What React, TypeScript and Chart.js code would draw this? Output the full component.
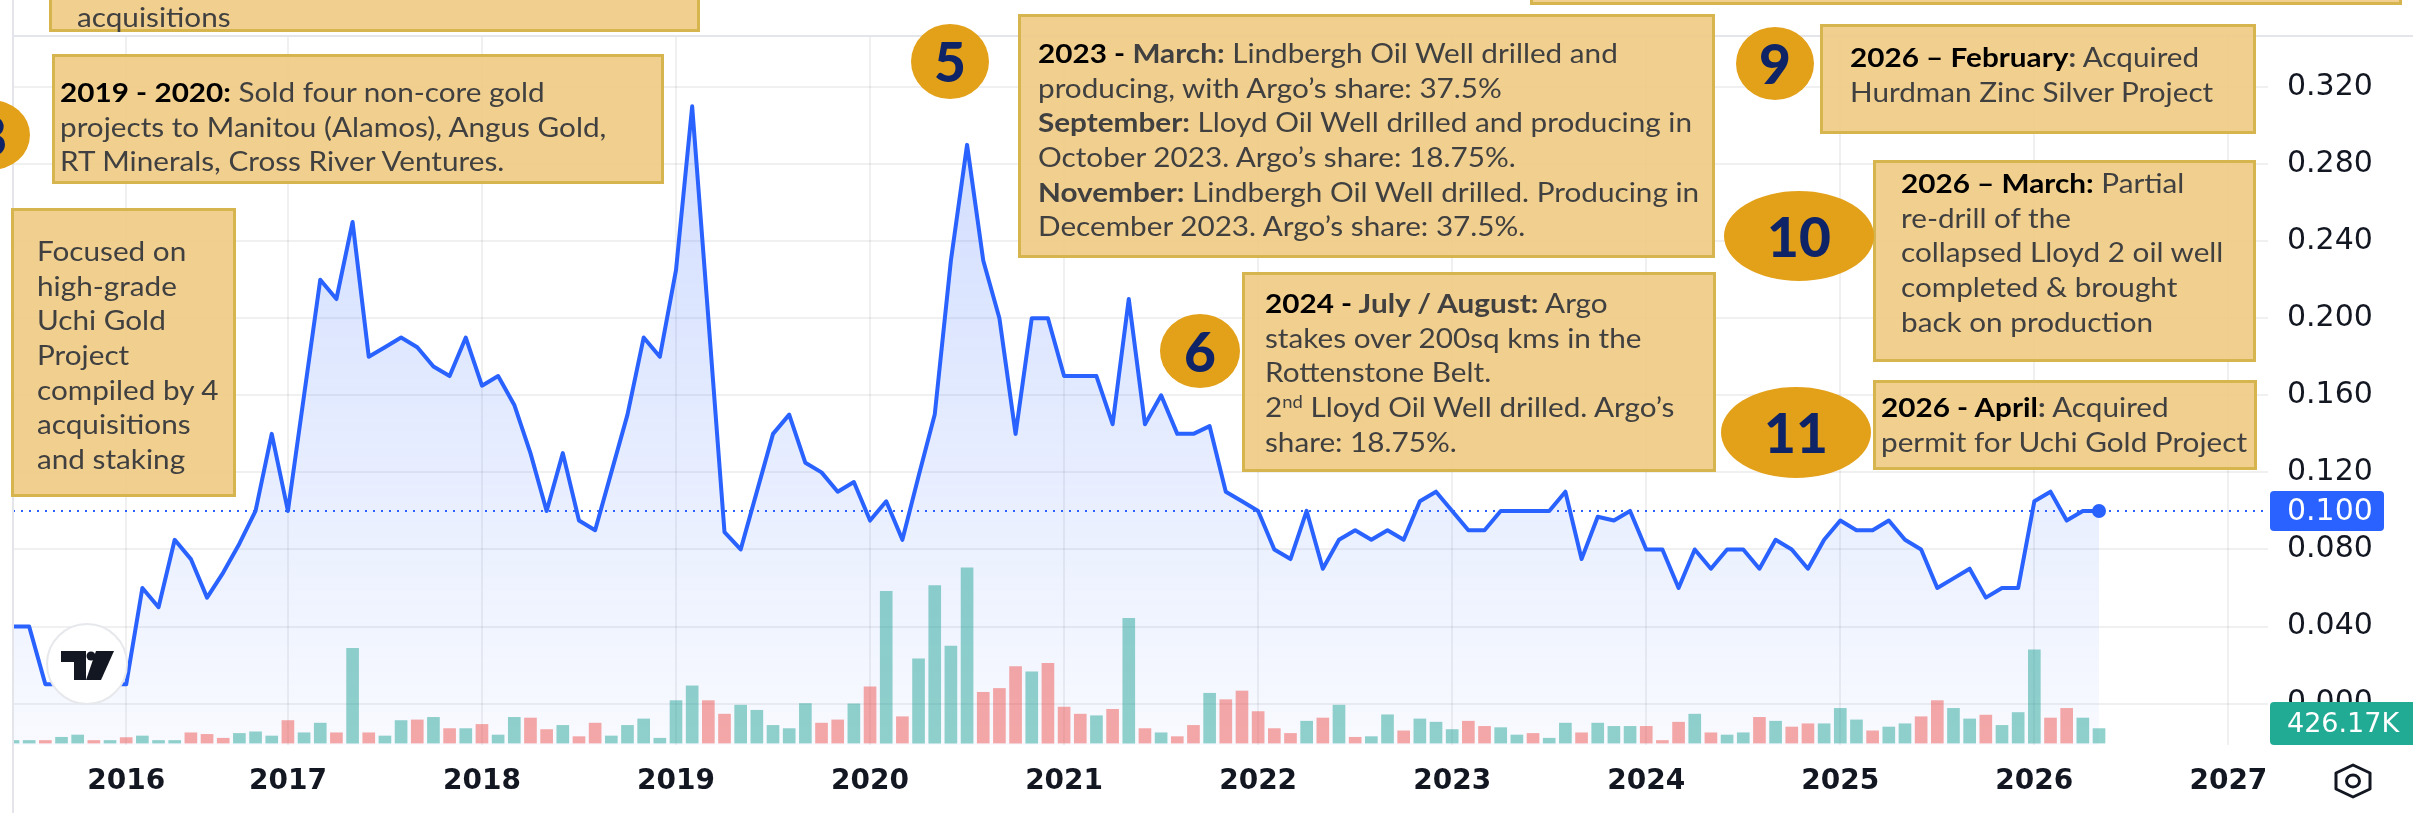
import React, { useEffect, useRef } from 'react';
import { Chart, registerables } from 'chart.js';

Chart.register(...registerables);

// ---------- DATA ----------
// Monthly closing price, one value per bar index (0 .. 129)
const PRICE: number[] = [
  0.04, 0.04, 0.01, 0.01, 0.01, 0.01, 0.01, 0.01, 0.06, 0.05,
  0.085, 0.075, 0.055, 0.068, 0.083, 0.10, 0.14, 0.10, 0.16, 0.22,
  0.21, 0.25, 0.18, 0.185, 0.19, 0.185, 0.175, 0.17, 0.19, 0.165,
  0.17, 0.155, 0.13, 0.10, 0.13, 0.095, 0.09, 0.12, 0.15, 0.19,
  0.18, 0.225, 0.31, 0.20, 0.089, 0.08, 0.11, 0.14, 0.15, 0.125,
  0.12, 0.11, 0.115, 0.095, 0.105, 0.085, 0.118, 0.15, 0.23, 0.29,
  0.23, 0.20, 0.14, 0.20, 0.20, 0.17, 0.17, 0.17, 0.145, 0.21,
  0.145, 0.16, 0.14, 0.14, 0.144, 0.11, 0.105, 0.10, 0.08, 0.075,
  0.10, 0.07, 0.085, 0.09, 0.085, 0.09, 0.085, 0.105, 0.11, 0.10,
  0.09, 0.09, 0.10, 0.10, 0.10, 0.10, 0.11, 0.075, 0.097, 0.095,
  0.10, 0.08, 0.08, 0.06, 0.08, 0.07, 0.08, 0.08, 0.07, 0.085,
  0.08, 0.07, 0.085, 0.095, 0.09, 0.09, 0.095, 0.085, 0.08, 0.06,
  0.065, 0.07, 0.055, 0.06, 0.06, 0.105, 0.11, 0.095, 0.10, 0.10,
];

// Monthly volume in thousands of shares
const VOLUME_K: number[] = [
  76, 76, 76, 170, 237, 76, 76, 161, 208, 76,
  76, 303, 256, 142, 284, 331, 208, 663, 303, 587,
  303, 2793, 303, 208, 663, 682, 757, 426, 426, 549,
  237, 757, 738, 398, 521, 189, 587, 208, 521, 710,
  142, 1250, 1685, 1250, 852, 1117, 966, 521, 426, 1164,
  587, 682, 1155, 1657, 4468, 776, 2480, 4639, 2859, 5160,
  1496, 1609, 2253, 2102, 2348, 1060, 852, 805, 994, 3673,
  426, 303, 189, 521, 1467, 1278, 1534, 928, 426, 284,
  644, 738, 1117, 170, 189, 833, 360, 710, 615, 398,
  644, 492, 454, 237, 284, 142, 587, 303, 587, 492,
  492, 492, 76, 615, 852, 303, 237, 303, 757, 644,
  473, 568, 568, 1022, 682, 360, 473, 568, 776, 1250,
  1022, 710, 824, 521, 899, 2745, 738, 1022, 738, 426.17,
];

// 1 = up month (teal), 0 = down month (red)
const VOLUME_UP: number[] = [
  1, 1, 0, 1, 1, 0, 1, 0, 1, 1,
  1, 0, 0, 0, 1, 1, 1, 0, 1, 1,
  0, 1, 0, 1, 1, 0, 1, 0, 1, 0,
  1, 1, 0, 0, 1, 0, 0, 1, 1, 1,
  1, 1, 1, 0, 0, 1, 1, 1, 1, 1,
  0, 0, 1, 0, 1, 0, 1, 1, 1, 1,
  0, 0, 0, 1, 0, 0, 0, 1, 0, 1,
  0, 1, 0, 0, 1, 0, 0, 0, 0, 0,
  1, 0, 1, 0, 1, 1, 0, 1, 1, 1,
  0, 0, 1, 1, 0, 1, 1, 0, 1, 1,
  1, 0, 0, 0, 1, 0, 1, 1, 0, 1,
  0, 0, 1, 1, 1, 0, 1, 1, 0, 0,
  1, 1, 0, 1, 1, 1, 0, 0, 1, 1,
];

// Year labels on the time axis and the bar index where each one sits
const YEAR_LABELS: string[] = ['2016', '2017', '2018', '2019', '2020', '2021', '2022', '2023', '2024', '2025', '2026', '2027'];
const YEAR_TICK_BARS: number[] = [7, 17, 29, 41, 53, 65, 77, 89, 101, 113, 125, 137];

// Price scale tick values
const PRICE_TICKS: number[] = [0, 0.04, 0.08, 0.12, 0.16, 0.2, 0.24, 0.28, 0.32];

// ---------- STYLE ----------
const GRID = 'rgba(42,46,57,0.07)';
const LINE_BLUE = '#2962ff';
const UP_COL = 'rgba(38,166,154,0.5)';
const DOWN_COL = 'rgba(239,83,80,0.5)';
const AXIS_FONT = 'DejaVu Sans';

const overlayPlugin = {
  id: 'tvOverlay',
  afterDatasetsDraw(chart: any) {
    const { ctx, chartArea: a, scales } = chart;
    const last = PRICE[PRICE.length - 1];
    const y = scales.y.getPixelForValue(last);
    ctx.save();
    ctx.strokeStyle = LINE_BLUE;
    ctx.lineWidth = 2;
    ctx.setLineDash([2, 6]);
    ctx.beginPath();
    ctx.moveTo(a.left, y);
    ctx.lineTo(a.right, y);
    ctx.stroke();
    ctx.restore();
  },
  afterDraw(chart: any) {
    const { ctx, chartArea: a, scales, width, height } = chart;
    ctx.save();
    // pane borders
    ctx.strokeStyle = '#e3e5ea';
    ctx.lineWidth = 2;
    ctx.beginPath();
    ctx.moveTo(a.left, 0);
    ctx.lineTo(a.left, height);
    ctx.moveTo(a.left, a.top - 1);
    ctx.lineTo(width, a.top - 1);
    ctx.stroke();

    // last price label
    const last = PRICE[PRICE.length - 1];
    const py = scales.y.getPixelForValue(last);
    const bx = a.right + 2;
    ctx.fillStyle = LINE_BLUE;
    roundRect(ctx, bx, py - 20, 114, 40, 4);
    ctx.fill();
    ctx.fillStyle = '#ffffff';
    ctx.font = `30px "${AXIS_FONT}"`;
    ctx.textBaseline = 'middle';
    ctx.textAlign = 'left';
    ctx.fillText(last.toFixed(3), a.right + 19, py + 1);

    // last volume label
    const lv = VOLUME_K[VOLUME_K.length - 1];
    let vy = scales.yv.getPixelForValue(lv);
    vy = Math.min(vy, a.bottom - 21.5);
    ctx.fillStyle = VOLUME_UP[VOLUME_UP.length - 1] ? '#22ab94' : '#f23645';
    roundRect(ctx, bx, vy - 21.5, 160, 43, 4);
    ctx.fill();
    ctx.fillStyle = '#ffffff';
    ctx.font = `27px "${AXIS_FONT}"`;
    ctx.fillText(lv.toFixed(2) + 'K', a.right + 19, vy + 1);

    // TradingView logo
    const lx = 87, ly = 664;
    ctx.beginPath();
    ctx.arc(lx, ly, 40, 0, Math.PI * 2);
    ctx.fillStyle = '#ffffff';
    ctx.fill();
    ctx.strokeStyle = '#e6e8ec';
    ctx.lineWidth = 2;
    ctx.stroke();
    ctx.fillStyle = '#131722';
    ctx.fillRect(lx - 26, ly - 13, 25, 11);
    ctx.fillRect(lx - 13, ly - 13, 12, 29);
    ctx.beginPath();
    ctx.arc(lx + 4, ly - 8, 4.5, 0, Math.PI * 2);
    ctx.fill();
    ctx.beginPath();
    ctx.moveTo(lx + 9, ly - 13);
    ctx.lineTo(lx + 27, ly - 13);
    ctx.lineTo(lx + 14, ly + 16);
    ctx.lineTo(lx - 1, ly + 16);
    ctx.closePath();
    ctx.fill();

    // settings icon
    const gx = 2353, gy = 781;
    ctx.strokeStyle = '#131722';
    ctx.lineWidth = 3;
    ctx.lineJoin = 'round';
    ctx.beginPath();
    ctx.moveTo(gx, gy - 16);
    ctx.lineTo(gx + 17, gy - 8);
    ctx.lineTo(gx + 17, gy + 8);
    ctx.lineTo(gx, gy + 16);
    ctx.lineTo(gx - 17, gy + 8);
    ctx.lineTo(gx - 17, gy - 8);
    ctx.closePath();
    ctx.stroke();
    ctx.beginPath();
    ctx.ellipse(gx, gy, 6.5, 6, 0, 0, Math.PI * 2);
    ctx.stroke();
    ctx.restore();
  },
};

function roundRect(ctx: CanvasRenderingContext2D, x: number, y: number, w: number, h: number, r: number) {
  ctx.beginPath();
  ctx.moveTo(x + r, y);
  ctx.lineTo(x + w - r, y);
  ctx.quadraticCurveTo(x + w, y, x + w, y + r);
  ctx.lineTo(x + w, y + h - r);
  ctx.quadraticCurveTo(x + w, y + h, x + w - r, y + h);
  ctx.lineTo(x + r, y + h);
  ctx.quadraticCurveTo(x, y + h, x, y + h - r);
  ctx.lineTo(x, y + r);
  ctx.quadraticCurveTo(x, y, x + r, y);
  ctx.closePath();
}

// ---------- ANNOTATIONS ----------
const TEXT_GRAY = '#404040';
const BK = (s: string) => <b style={{ color: '#000', fontWeight: 700 }}>{s}</b>;
const BG = (s: string) => <b style={{ color: TEXT_GRAY, fontWeight: 700 }}>{s}</b>;

const FONT_SIZE = 27;
const LINE_H = 34.6;
const BASE_OFF = 27.7;
const SCALE_X = 1.1;

function Note(p: { left: number; top: number; width: number; height: number; textLeft?: number; baseline?: number; lines?: React.ReactNode[] }) {
  return (
    <div
      style={{
        position: 'absolute',
        left: p.left,
        top: p.top,
        width: p.width,
        height: p.height,
        boxSizing: 'border-box',
        background: 'rgba(239,203,134,0.93)',
        border: '3px solid #d6b54f',
      }}
    >
      {p.lines && (
        <div
          style={{
            position: 'absolute',
            left: (p.textLeft as number) - p.left - 3,
            top: (p.baseline as number) - p.top - BASE_OFF - 3,
            fontFamily: 'Lato, sans-serif',
            fontSize: FONT_SIZE,
            lineHeight: `${LINE_H}px`,
            color: TEXT_GRAY,
            whiteSpace: 'nowrap',
            transform: `scaleX(${SCALE_X})`,
            transformOrigin: '0 0',
          }}
        >
          {p.lines.map((l, i) => (
            <div key={i} style={{ height: LINE_H }}>{l}</div>
          ))}
        </div>
      )}
    </div>
  );
}

function Badge(p: { cx: number; cy: number; w: number; h: number; label: string }) {
  return (
    <div
      style={{
        position: 'absolute',
        left: p.cx - p.w / 2,
        top: p.cy - p.h / 2,
        width: p.w,
        height: p.h,
        borderRadius: '50%',
        background: '#e3a11a',
        display: 'flex',
        alignItems: 'center',
        justifyContent: 'center',
        fontFamily: 'Lato, sans-serif',
        fontWeight: 900,
        fontSize: 55,
        lineHeight: 1,
        color: '#0f2466',
      }}
    >
      {p.label}
    </div>
  );
}

export default function App() {
  const ref = useRef<HTMLCanvasElement>(null);

  useEffect(() => {
    const canvas = ref.current as HTMLCanvasElement;
    const chart = new Chart(canvas, {
      type: 'bar',
      data: {
        datasets: [
          {
            type: 'line',
            data: PRICE.map((v, i) => ({ x: i, y: v })),
            xAxisID: 'x',
            yAxisID: 'y',
            borderColor: LINE_BLUE,
            borderWidth: 4,
            tension: 0,
            borderJoinStyle: 'round',
            borderCapStyle: 'round',
            fill: 'start',
            backgroundColor: (c: any) => {
              const a = c.chart.chartArea;
              if (!a) return 'rgba(41,98,255,0.1)';
              const g = c.chart.ctx.createLinearGradient(0, a.top, 0, a.bottom);
              g.addColorStop(0, 'rgba(41,98,255,0.24)');
              g.addColorStop(1, 'rgba(41,98,255,0.03)');
              return g;
            },
            pointRadius: (c: any) => (c.dataIndex === PRICE.length - 1 ? 7 : 0),
            pointBackgroundColor: LINE_BLUE,
            pointBorderWidth: 0,
            order: 0,
          } as any,
          {
            type: 'bar',
            data: VOLUME_K.map((v, i) => ({ x: i, y: v })),
            xAxisID: 'x',
            yAxisID: 'yv',
            backgroundColor: VOLUME_UP.map((u) => (u ? UP_COL : DOWN_COL)),
            barThickness: 12,
            order: 1,
          } as any,
        ],
      },
      options: {
        responsive: false,
        animation: false,
        devicePixelRatio: 1,
        layout: { padding: { left: 13, top: 10, right: 0, bottom: 0 } },
        plugins: {
          legend: { display: false },
          tooltip: { enabled: false },
          filler: { drawTime: 'beforeDatasetsDraw' },
        } as any,
        scales: {
          x: {
            type: 'linear',
            min: 0,
            max: 139.45,
            offset: false,
            grid: { color: GRID, lineWidth: 2, drawTicks: false, offset: false },
            border: { display: false },
            ticks: {
              autoSkip: false,
              maxRotation: 0,
              padding: 20,
              color: '#131722',
              font: { family: AXIS_FONT, size: 28, weight: 'bold' },
              callback: (_v: any, i: number) => YEAR_LABELS[i],
            },
            afterBuildTicks: (s: any) => {
              s.ticks = YEAR_TICK_BARS.map((v) => ({ value: v }));
            },
            afterFit: (s: any) => {
              s.height = 68;
            },
          } as any,
          y: {
            position: 'right',
            min: -0.0215,
            max: 0.346,
            grid: { color: GRID, lineWidth: 2, drawTicks: false },
            border: { display: false },
            ticks: {
              padding: 19,
              color: '#131722',
              font: { family: AXIS_FONT, size: 30 },
              callback: (v: any) => Number(v).toFixed(3),
            },
            afterBuildTicks: (s: any) => {
              s.ticks = PRICE_TICKS.map((v) => ({ value: v }));
            },
            afterFit: (s: any) => {
              s.width = 145;
            },
          } as any,
          yv: { display: false, min: -57, max: 20800 } as any,
        },
      },
      plugins: [overlayPlugin as any],
    });
    return () => chart.destroy();
  }, []);

  return (
    <div style={{ position: 'fixed', left: 0, top: 0, width: 2413, height: 813, overflow: 'hidden', background: '#fff' }}>
      <canvas ref={ref} width={2413} height={813} style={{ position: 'absolute', left: 0, top: 0, width: 2413, height: 813 }} />

      <Note left={49} top={-45} width={651} height={77} textLeft={77} baseline={28} lines={['acquisitions']} />
      <Note left={1530} top={-45} width={872} height={50} />

      <Note
        left={52} top={54} width={612} height={130} textLeft={60} baseline={103}
        lines={[
          <>{BK('2019 - 2020:')} Sold four non-core gold</>,
          'projects to Manitou (Alamos), Angus Gold,',
          'RT Minerals, Cross River Ventures.',
        ]}
      />
      <Note
        left={11} top={208} width={225} height={289} textLeft={37} baseline={262}
        lines={['Focused on', 'high-grade', 'Uchi Gold', 'Project', 'compiled by 4', 'acquisitions', 'and staking']}
      />
      <Note
        left={1018} top={14} width={697} height={244} textLeft={1038} baseline={64}
        lines={[
          <>{BK('2023 - ')}{BG('March:')} Lindbergh Oil Well drilled and</>,
          'producing, with Argo’s share: 37.5%',
          <>{BG('September:')} Lloyd Oil Well drilled and producing in</>,
          'October 2023. Argo’s share: 18.75%.',
          <>{BG('November:')} Lindbergh Oil Well drilled. Producing in</>,
          'December 2023. Argo’s share: 37.5%.',
        ]}
      />
      <Note
        left={1242} top={272} width={474} height={200} textLeft={1265} baseline={314}
        lines={[
          <>{BK('2024 - ')}{BG('July / August:')} Argo</>,
          'stakes over 200sq kms in the',
          'Rottenstone Belt.',
          <>2<sup style={{ fontSize: '0.62em', verticalAlign: '0.55em', lineHeight: 0 }}>nd</sup> Lloyd Oil Well drilled. Argo’s</>,
          'share: 18.75%.',
        ]}
      />
      <Note
        left={1820} top={24} width={436} height={110} textLeft={1850} baseline={68}
        lines={[
          <>{BK('2026 – February')}{BG(':')} Acquired</>,
          'Hurdman Zinc Silver Project',
        ]}
      />
      <Note
        left={1873} top={160} width={383} height={202} textLeft={1901} baseline={194}
        lines={[
          <>{BK('2026 – March:')} Partial</>,
          're-drill of the',
          'collapsed Lloyd 2 oil well',
          'completed & brought',
          'back on production',
        ]}
      />
      <Note
        left={1873} top={380} width={384} height={90} textLeft={1881} baseline={418}
        lines={[
          <>{BK('2026 - April')}{BG(':')} Acquired</>,
          'permit for Uchi Gold Project',
        ]}
      />

      <Badge cx={-9} cy={135} w={78} h={70} label="8" />
      <Badge cx={950} cy={61} w={78} h={75} label="5" />
      <Badge cx={1200} cy={351} w={80} h={74} label="6" />
      <Badge cx={1775} cy={63} w={78} h={73} label="9" />
      <Badge cx={1799} cy={236} w={150} h={90} label="10" />
      <Badge cx={1796} cy={432} w={150} h={91} label="11" />
    </div>
  );
}
